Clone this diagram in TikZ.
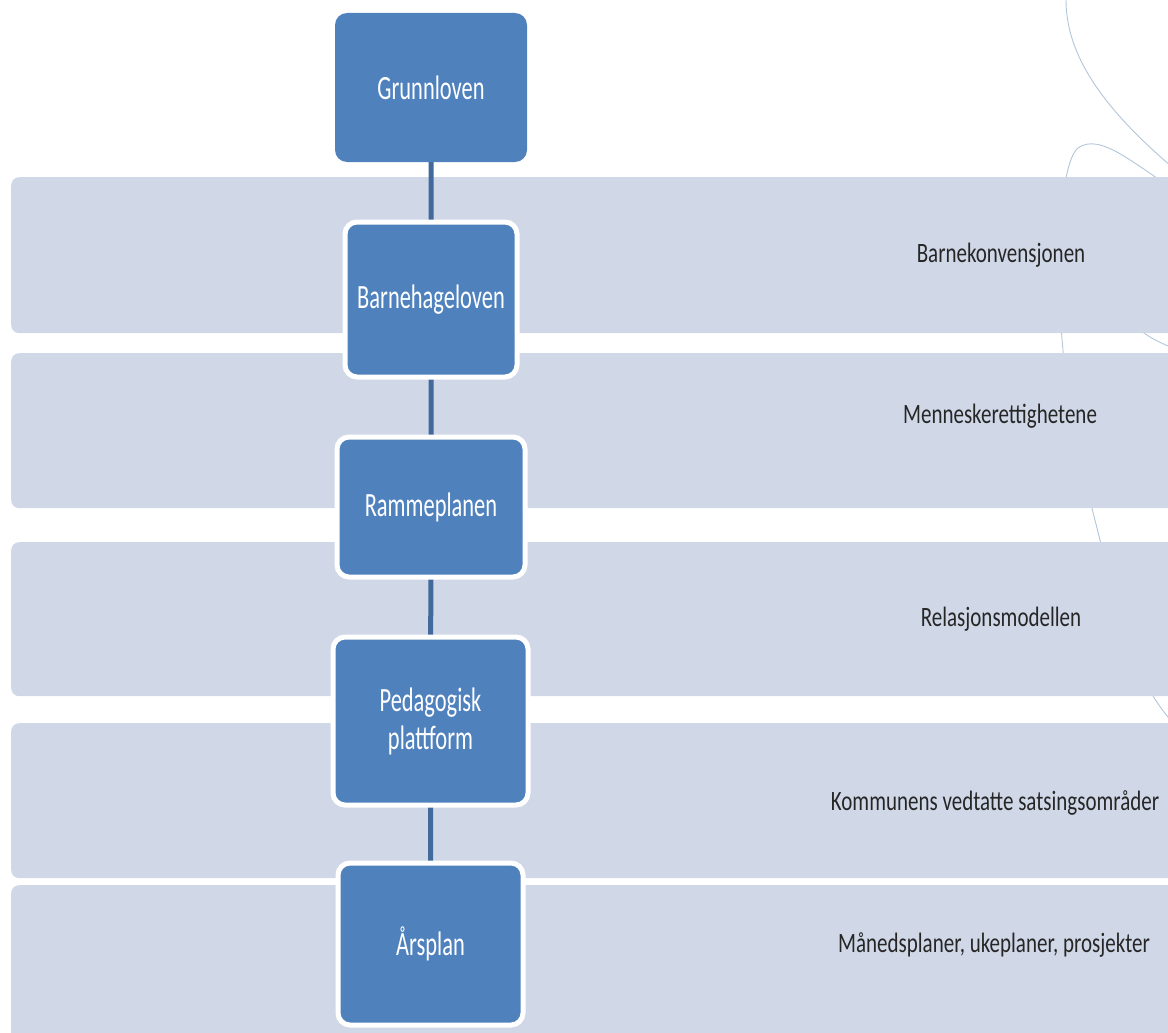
\documentclass[tikz,border=0pt]{standalone}
\usepackage{fontspec}
\setmainfont{Carlito}
\newfontfamily\boxfont[FakeStretch=0.66]{Carlito}
\newfontfamily\bandfont[FakeStretch=0.75]{Carlito}
\definecolor{bandfill}{HTML}{D0D8E8}
\definecolor{boxfill}{HTML}{4F81BD}
\definecolor{linkcol}{HTML}{41699C}
\definecolor{decocol}{HTML}{B2C6DA}
\tikzset{
  band/.style={fill=bandfill, draw=none, rounded corners=8pt, anchor=north west, inner sep=0pt},
  blue box/.style={fill=boxfill, draw=white, line width=5pt, rounded corners=12pt,
    text=white, font=\boxfont\fontsize{34}{38}\selectfont, align=center, inner sep=0pt},
  band text/.style={text=black!85, font=\bandfont\fontsize{28}{32}\selectfont, anchor=center, inner sep=0pt},
  link/.style={draw=linkcol, line width=5pt},
  deco/.style={draw=decocol, line width=0.9pt}
}
\begin{document}
\begin{tikzpicture}[x=1pt, y=-1pt]
\useasboundingbox (0,0) rectangle (1168,1033);
\clip (0,0) rectangle (1168,1033);
% decorative background curves
\draw[deco] (1066,0) .. controls (1066,60) and (1110,115) .. (1178,172);
\draw[deco] (1178,192) .. controls (1135,165) and (1100,132) .. (1078,148)
  .. controls (1058,165) and (1056,280) .. (1063,350)
  .. controls (1068,420) and (1085,480) .. (1100,540)
  .. controls (1115,600) and (1130,680) .. (1178,728);
\draw[deco] (1140,330) .. controls (1150,338) and (1160,343) .. (1178,350);
% bands
\node[band, minimum width=1180pt, minimum height=156pt] (b1) at (11,177) {};
\node[band, minimum width=1180pt, minimum height=155pt] (b2) at (11,353) {};
\node[band, minimum width=1180pt, minimum height=154pt] (b3) at (11,542) {};
\node[band, minimum width=1180pt, minimum height=155pt] (b4) at (11,723) {};
\node[band, minimum width=1180pt, minimum height=160pt] (b5) at (11,885) {};
% band texts
\node[band text] (t1) at (1001,255) {Barnekonvensjonen};
\node[band text] (t2) at (1000,416) {Menneskerettighetene};
\node[band text] (t3) at (1001,619) {Relasjonsmodellen};
\node[band text] (t4) at (995,803) {Kommunens vedtatte satsingsområder};
\node[band text] (t5) at (994,945) {Månedsplaner, ukeplaner, prosjekter};
% boxes (coordinates first for connectors)
\coordinate (c0) at (431,87.5);
\coordinate (c1) at (431,299.5);
\coordinate (c2) at (431,507);
\coordinate (c3) at (430.5,721);
\coordinate (c4) at (430.5,944);
\draw[link] (c0) -- (c1) -- (c2) -- (c3) -- (c4);
\node[blue box, minimum width=192pt, minimum height=149pt, draw=none] (n0) at (c0) {Grunnloven};
\node[blue box, minimum width=172pt, minimum height=155pt] (n1) at (c1) {Barnehageloven};
\node[blue box, minimum width=188pt, minimum height=140pt] (n2) at (c2) {Rammeplanen};
\node[blue box, minimum width=195pt, minimum height=168pt] (n3) at (c3) {Pedagogisk\\plattform};
\node[blue box, minimum width=185pt, minimum height=162pt] (n4) at (c4) {Årsplan};
\end{tikzpicture}
\end{document}
